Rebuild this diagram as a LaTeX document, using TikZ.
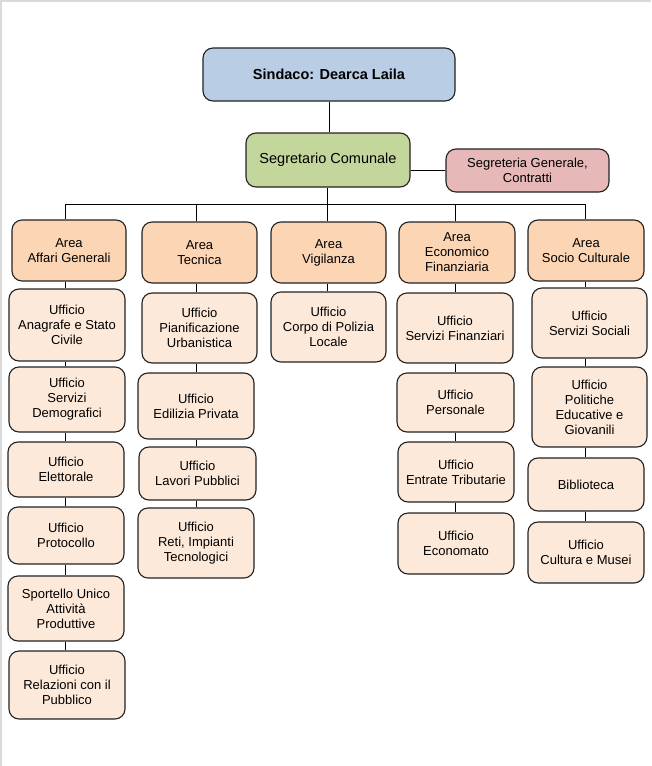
\documentclass[tikz,border=0pt]{standalone}
\usepackage{fontspec}
\setmainfont{Liberation Sans}
\definecolor{sindblue}{HTML}{B9CDE5}
\definecolor{seggreen}{HTML}{C3D69B}
\definecolor{sgrpink}{HTML}{E6B9B8}
\definecolor{areafill}{HTML}{FCD5B4}
\definecolor{uffill}{HTML}{FDE9D9}
\definecolor{edge}{HTML}{222222}
\definecolor{frame}{HTML}{DADADA}
\begin{document}
\begin{tikzpicture}[x=1pt,y=-1pt,
  box/.style={draw=edge, line width=1.1pt, rounded corners=10pt, align=center,
    font=\fontsize{13}{15}\selectfont, text=black, inner sep=1pt},
  areabox/.style={box, fill=areafill, minimum width=115, minimum height=61},
  ufbox/.style={box, fill=uffill, minimum width=116},
  link/.style={draw=black, line width=0.8pt}]
\useasboundingbox (0,0) rectangle (651,766);
\fill[white] (0,0) rectangle (651,766);
\draw[frame, line width=1.5pt] (0,1) -- (651,1);
\draw[frame, line width=1.5pt] (1,0) -- (1,766);

% top
\node[box, fill=sindblue, minimum width=252, minimum height=53, font=\fontsize{14.5}{17}\selectfont\bfseries] (sind) at (329,74.5) {Sindaco: Dearca Laila};
\node[box, fill=seggreen, minimum width=164, minimum height=54, font=\fontsize{14.5}{17}\selectfont] (seg) at (328,160) {Segretario Comunale};
\node[box, fill=sgrpink, minimum width=163, minimum height=43] (sgr) at (527.5,170.5) {Segreteria Generale,\\Contratti};

% column 1
\node[areabox, minimum width=114] (a1) at (69,250.5) {Area\\Affari Generali};
\node[ufbox, minimum height=72] (u11) at (67,325) {Ufficio\\Anagrafe e Stato\\Civile};
\node[ufbox, minimum height=65] (u12) at (67,399.5) {Ufficio\\Servizi\\Demografici};
\node[ufbox, minimum height=55] (u13) at (66,469.5) {Ufficio\\Elettorale};
\node[ufbox, minimum height=57] (u14) at (66,535.5) {Ufficio\\Protocollo};
\node[ufbox, minimum height=65] (u15) at (66,608.5) {Sportello Unico\\Attività\\Produttive};
\node[ufbox, minimum height=68] (u16) at (67,685) {Ufficio\\Relazioni con il\\Pubblico};

% column 2
\node[areabox] (a2) at (199.5,252.5) {Area\\Tecnica};
\node[ufbox, minimum width=115, minimum height=70] (u21) at (199.5,328) {Ufficio\\Pianificazione\\Urbanistica};
\node[ufbox, minimum height=66] (u22) at (196,406) {Ufficio\\Edilizia Privata};
\node[ufbox, minimum width=117, minimum height=53] (u23) at (197.5,473.5) {Ufficio\\Lavori Pubblici};
\node[ufbox, minimum height=70] (u24) at (196,543) {Ufficio\\Reti, Impianti\\Tecnologici};

% column 3
\node[areabox] (a3) at (328.5,252.5) {Area\\Vigilanza};
\node[ufbox, minimum width=115, minimum height=70] (u31) at (328.5,327) {Ufficio\\Corpo di Polizia\\Locale};

% column 4
\node[areabox, minimum width=116] (a4) at (457,252.5) {Area\\Economico\\Finanziaria};
\node[ufbox, minimum height=70] (u41) at (455,328) {Ufficio\\Servizi Finanziari};
\node[ufbox, minimum width=117, minimum height=59] (u42) at (455.5,402.5) {Ufficio\\Personale};
\node[ufbox, minimum height=60] (u43) at (456,472) {Ufficio\\Entrate Tributarie};
\node[ufbox, minimum height=61] (u44) at (456,543.5) {Ufficio\\Economato};

% column 5
\node[areabox, minimum width=116] (a5) at (586,250.5) {Area\\Socio Culturale};
\node[ufbox, minimum width=115, minimum height=70] (u51) at (589.5,323) {Ufficio\\Servizi Sociali};
\node[ufbox, minimum width=115, minimum height=80] (u52) at (589.5,407) {Ufficio\\Politiche\\Educative e\\Giovanili};
\node[ufbox, minimum height=53] (u53) at (586,484.5) {Biblioteca};
\node[ufbox, minimum height=61] (u54) at (586,552.5) {Ufficio\\Cultura e Musei};

% bus coordinates
\coordinate (c1) at (65,204);
\coordinate (c2) at (196,204);
\coordinate (c3) at (327,204);
\coordinate (c4) at (455,204);
\coordinate (c5) at (585,204);

% connectors
\draw[link] (sind.south) -- (sind.south |- seg.north);
\draw[link] (seg.east |- sgr.west) -- (sgr.west);
\draw[link] (seg.south -| c3) -- (c3);
\draw[link] (c1) -- (c5);
\foreach \c/\a in {c1/a1,c2/a2,c3/a3,c4/a4,c5/a5}
  \draw[link] (\c) -- (\c |- \a.north);
\foreach \c/\p/\q in {c1/a1/u11,c1/u11/u12,c1/u12/u13,c1/u13/u14,c1/u14/u15,c1/u15/u16,
  c2/a2/u21,c2/u21/u22,c2/u22/u23,c2/u23/u24,
  c3/a3/u31,
  c4/a4/u41,c4/u41/u42,c4/u42/u43,c4/u43/u44,
  c5/a5/u51,c5/u51/u52,c5/u52/u53,c5/u53/u54}
  \draw[link] (\p.south -| \c) -- (\q.north -| \c);
\end{tikzpicture}
\end{document}
